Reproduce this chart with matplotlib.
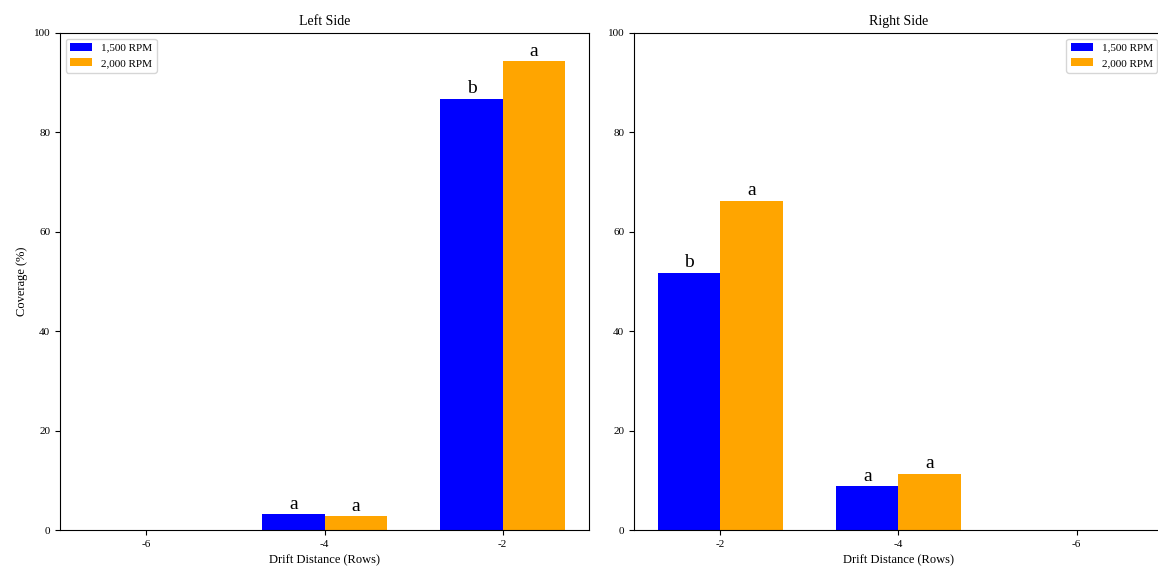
import matplotlib
matplotlib.use("Agg")
from matplotlib import pyplot as plt
import numpy as np

plt.rcParams['font.family'] = ['Liberation Serif', 'DejaVu Serif']

# data
left_cats = ["-6", "-4", "-2"]
left_1500 = [0, 3.2, 86.8]
left_2000 = [0, 2.8, 94.3]
left_letters_1500 = ["", "a", "b"]
left_letters_2000 = ["", "a", "a"]

right_cats = ["-2", "-4", "-6"]
right_1500 = [51.8, 8.8, 0]
right_2000 = [66.2, 11.3, 0]
right_letters_1500 = ["b", "a", ""]
right_letters_2000 = ["a", "a", ""]

labels = ["1,500 RPM", "2,000 RPM"]
colors = ["blue", "orange"]
w = 0.35

fig = plt.figure(figsize=(11.58, 5.74), dpi=100)
W, H = 1158, 574
# the right panel runs a little past the right edge, as in the reference
ax_l = fig.add_axes([60 / W, 44 / H, 529 / W, 497 / H])
ax_r = fig.add_axes([634 / W, 44 / H, 529 / W, 497 / H])


def draw(ax, cats, v1, v2, l1, l2, title, loc):
    x = np.arange(len(cats))
    b1 = ax.bar(x - w / 2, v1, w, color=colors[0], label=labels[0])
    b2 = ax.bar(x + w / 2, v2, w, color=colors[1], label=labels[1])
    for bars, lets in ((b1, l1), (b2, l2)):
        for r, t in zip(bars, lets):
            if t:
                ax.text(r.get_x() + r.get_width() / 2, r.get_height() + 0.3, t,
                        ha="center", va="bottom", fontsize=14)
    ax.set_xticks(x)
    ax.set_xticklabels(cats)
    ax.set_ylim(0, 100)
    ax.set_title(title, fontsize=10)
    ax.set_xlabel("Drift Distance (Rows)", fontsize=9)
    ax.tick_params(axis='both', labelsize=8)
    ax.legend(loc=loc, fontsize=8)


draw(ax_l, left_cats, left_1500, left_2000, left_letters_1500, left_letters_2000,
     "Left Side", "upper left")
ax_l.set_ylabel("Coverage (%)", fontsize=9)
draw(ax_r, right_cats, right_1500, right_2000, right_letters_1500, right_letters_2000,
     "Right Side", "upper right")

plt.savefig("out.png")
